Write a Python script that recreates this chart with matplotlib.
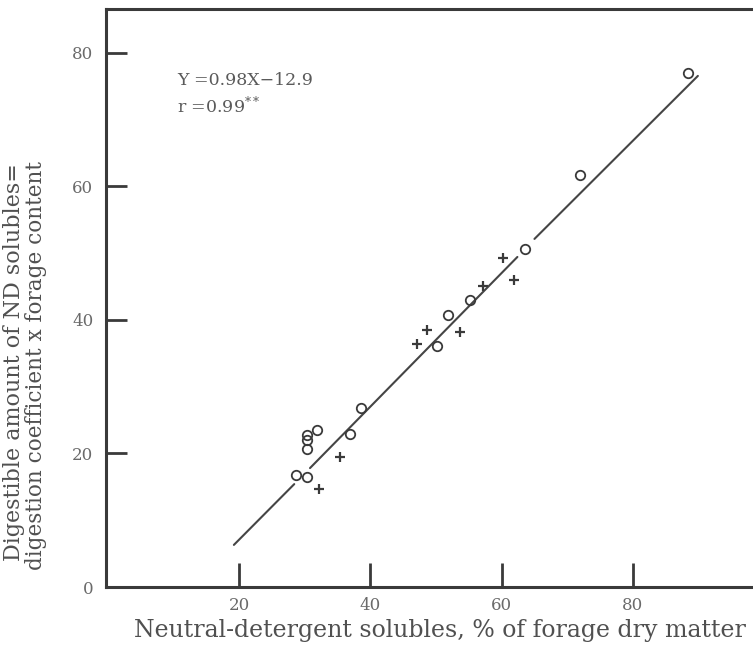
import numpy as np
import matplotlib
matplotlib.use("Agg")
import matplotlib.pyplot as plt

# === Data ===
# open circles
circ_x = [28.6, 30.3, 30.3, 30.3, 30.3, 31.9, 36.9, 38.6, 50.1, 51.8, 55.2, 63.5, 71.9, 88.4]
circ_y = [16.8, 16.4, 20.7, 22.0, 22.7, 23.5, 22.9, 26.8, 36.0, 40.7, 43.0, 50.6, 61.6, 76.9]
# crosses
plus_x = [32.2, 35.4, 47.1, 48.7, 53.7, 57.2, 60.2, 61.9]
plus_y = [14.7, 19.5, 36.4, 38.4, 38.2, 45.0, 49.2, 46.0]
# regression line as printed (broken where it passes the markers)
fit_x = [19.2, 28.4, np.nan, 30.8, 62.4, np.nan, 65.0, 89.9]
fit_y = [6.3, 15.4, np.nan, 17.8, 49.4, np.nan, 52.1, 76.5]

x_ticks = [20, 40, 60, 80]
y_ticks = [0, 20, 40, 60, 80]

eq_text = "Y =0.98X\u221212.9"
r_text = "r =0.99$^{**}$"
xlabel = "Neutral-detergent solubles, % of forage dry matter"
ylabel_1 = "Digestible amount of ND solubles="
ylabel_2 = "digestion coefficient x forage content"

INK = "#3a3a3a"
GREY = "#6a6a6a"
SERIF = ["DejaVu Serif"]

plt.rcParams["font.family"] = SERIF
plt.rcParams["mathtext.fontset"] = "dejavuserif"

W, H = 753, 649
fig = plt.figure(figsize=(W / 100, H / 100), dpi=100)
fig.patch.set_facecolor("white")

# axes box placed in pixels
left_px, right_px, top_px, bottom_px = 105.9, 753.0, 9.1, 587.0
ax = fig.add_axes([left_px / W, (H - bottom_px) / H,
                   (right_px - left_px) / W, (bottom_px - top_px) / H])
ax.set_xlim(-0.3, 98.3)
ax.set_ylim(0, 86.5)

# fitted line
ax.plot(fit_x, fit_y, color="#454545", linewidth=1.5, solid_capstyle="round", zorder=2)

# markers
ax.plot(circ_x, circ_y, linestyle="none", marker="o", markersize=6.8,
        markerfacecolor="none", markeredgecolor=INK, markeredgewidth=1.3, zorder=3)
ax.plot(plus_x, plus_y, linestyle="none", marker="+", markersize=7.5,
        markeredgecolor=INK, markeredgewidth=1.6, zorder=3)

# spines
for side in ("left", "bottom", "top"):
    ax.spines[side].set_linewidth(2.2)
    ax.spines[side].set_color(INK)
ax.spines["right"].set_visible(False)

ax.set_xticks(x_ticks)
ax.set_yticks(y_ticks)
ax.tick_params(axis="x", direction="in", length=17, width=2, color=INK,
               labelsize=12, labelcolor=GREY, pad=7)
ax.tick_params(axis="y", direction="in", length=15, width=2, color=INK,
               labelsize=12, labelcolor=GREY, pad=9)

# equation
ax.text(10.5, 75.8, eq_text, fontsize=12.5, color="#5a5a5a", va="center", ha="left")
ax.text(10.5, 71.9, r_text, fontsize=12.5, color="#5a5a5a", va="center", ha="left")

# axis labels in figure pixels
fig.text(440 / W, (H - 630) / H, xlabel, fontsize=17, color="#505050",
         ha="center", va="center")
fig.text(14 / W, (H - 362) / H, ylabel_1, fontsize=16, color="#505050",
         ha="center", va="center", rotation=90)
fig.text(36 / W, (H - 365) / H, ylabel_2, fontsize=15.5, color="#505050",
         ha="center", va="center", rotation=90)

fig.savefig("out.png", dpi=100)
